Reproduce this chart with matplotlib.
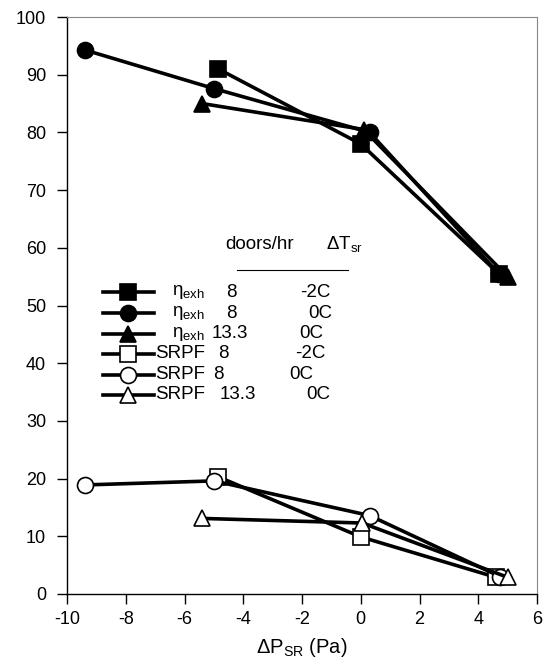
import matplotlib
matplotlib.use("Agg")
import matplotlib.pyplot as plt
from matplotlib.lines import Line2D

plt.rcParams['font.family'] = ['Liberation Sans', 'DejaVu Sans']
plt.rcParams['mathtext.fontset'] = 'custom'
plt.rcParams['mathtext.rm'] = 'Liberation Sans'
plt.rcParams['axes.unicode_minus'] = False

# eta_exh series (filled markers)
x_sq_f = [-4.85, 0.0, 4.7]
y_sq_f = [91.0, 78.0, 55.5]
x_ci_f = [-9.4, -5.0, 0.3, 4.7]
y_ci_f = [94.3, 87.6, 80.0, 55.5]
x_tr_f = [-5.4, 0.1, 5.0]
y_tr_f = [85.0, 80.5, 55.0]

# SRPF series (open markers)
x_sq_o = [-4.85, 0.0, 4.6]
y_sq_o = [20.3, 9.9, 2.9]
x_ci_o = [-9.4, -5.0, 0.3, 4.75]
y_ci_o = [18.9, 19.6, 13.6, 3.0]
x_tr_o = [-5.4, 0.05, 5.0]
y_tr_o = [13.1, 12.3, 2.9]

rows_name = ["η$_{\\mathrm{exh}}$", "η$_{\\mathrm{exh}}$", "η$_{\\mathrm{exh}}$", "SRPF", "SRPF", "SRPF"]
rows_doors = ["8", "8", "13.3", "8", "8", "13.3"]
rows_dt = ["-2C", "0C", "0C", "-2C", "0C", "0C"]

styles = [("s", "black", 11), ("o", "black", 11.5), ("^", "black", 11),
          ("s", "white", 11), ("o", "white", 11.5), ("^", "white", 11)]

fig = plt.figure(figsize=(5.47, 6.70), dpi=100)
ax = fig.add_axes([67 / 547, 1 - 594 / 670, 470 / 547, 577 / 670])

series = [(x_sq_f, y_sq_f), (x_ci_f, y_ci_f), (x_tr_f, y_tr_f),
          (x_sq_o, y_sq_o), (x_ci_o, y_ci_o), (x_tr_o, y_tr_o)]
for (xs, ys), (m, fc, ms) in zip(series, styles):
    ax.plot(xs, ys, color="black", lw=2.6, marker=m, ms=ms,
            mfc=fc, mec="black", mew=1.2, clip_on=False, zorder=3)

ax.set_xlim(-10, 6)
ax.set_ylim(0, 100)
ax.set_xticks(range(-10, 7, 2))
ax.set_yticks(range(0, 101, 10))
ax.tick_params(direction="out", length=7, width=1, labelsize=13, colors="black", pad=5)
ax.tick_params(axis="y", pad=8)
ax.spines["top"].set_color("#888888")
ax.spines["right"].set_color("#888888")
for s in ["left", "bottom"]:
    ax.spines[s].set_linewidth(1)
ax.set_xlabel(r"$\Delta$P$_{\mathrm{SR}}$ (Pa)", fontsize=14.5, labelpad=6)

# legend table
row_y = [52.3, 48.7, 45.1, 41.6, 38.0, 34.5]
name_x = [-6.43, -6.43, -6.43, -7.0, -7.0, -7.0]
doors_x = [-4.39, -4.39, -4.46, -4.66, -4.86, -4.18]
dt_x = [-1.53, -1.39, -1.70, -1.70, -2.04, -1.46]
for i, (m, fc, ms) in enumerate(styles):
    ax.add_line(Line2D([-8.78, -7.05], [row_y[i], row_y[i]], color="black", lw=2.6))
    ax.add_line(Line2D([-7.93], [row_y[i]], marker=m, ms=ms, mfc=fc, mec="black", mew=1.2))
    ax.text(name_x[i], row_y[i], rows_name[i], fontsize=13.5, va="center", ha="left")
    ax.text(doors_x[i], row_y[i], rows_doors[i], fontsize=13.5, va="center", ha="center")
    ax.text(dt_x[i], row_y[i], rows_dt[i], fontsize=13.5, va="center", ha="center")

ax.text(-3.44, 60.5, "doors/hr", fontsize=13.5, va="center", ha="center")
ax.text(-0.54, 60.5, r"$\Delta$T$_{\mathrm{sr}}$", fontsize=13.5, va="center", ha="center")
ax.add_line(Line2D([-4.22, -0.44], [56.2, 56.2], color="black", lw=0.8))

fig.savefig("out.png", dpi=100)
